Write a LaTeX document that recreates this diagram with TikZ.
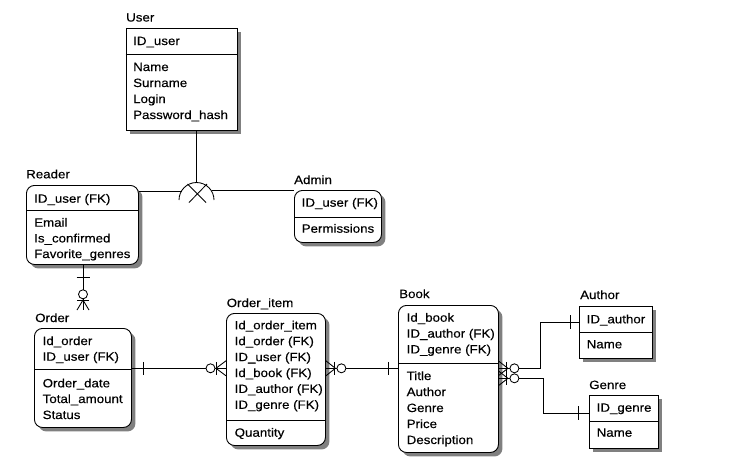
\documentclass[tikz,border=0pt]{standalone}
\usepackage{fontspec}
\setmainfont{Liberation Sans}[FakeStretch=1.11, FakeBold=0.3]
\usetikzlibrary{shadows}
\begin{document}
\begin{tikzpicture}[x=1pt,y=-1pt,
  every node/.style={font=\fontsize{12}{14}\selectfont},
  ent/.style={draw, fill=white, line width=0.9pt, inner sep=0pt, anchor=north west,
    drop shadow={shadow xshift=4pt, shadow yshift=-4pt, fill=black!50, opacity=1}},
  dep/.style={ent, rounded corners=8pt},
  txt/.style={anchor=base west, inner sep=0pt, text=black},
  sepline/.style={line width=0.9pt},
  rel/.style={line width=0.85pt},
]
\useasboundingbox (0,0) rectangle (743,467);

% ---------- entities ----------
\node[ent, minimum width=111pt, minimum height=102pt] (user)   at (125.5,28) {};
\node[dep, minimum width=112pt, minimum height=79pt]  (reader) at (26,185)   {};
\node[dep, minimum width=87pt,  minimum height=52pt]  (admin)  at (294,190)  {};
\node[dep, minimum width=97pt,  minimum height=99pt]  (order)  at (34,328)   {};
\node[dep, minimum width=99pt,  minimum height=132pt] (oitem)  at (226,313)  {};
\node[dep, minimum width=100pt, minimum height=147pt] (book)   at (398,305)  {};
\node[ent, minimum width=73pt,  minimum height=52pt]  (author) at (579,306)  {};
\node[ent, minimum width=69pt,  minimum height=53pt]  (genre)  at (589,395)  {};

% key / non-key separators
\draw[sepline] (user.west   |- 0,54)  -- (user.east   |- 0,54);
\draw[sepline] (reader.west |- 0,210) -- (reader.east |- 0,210);
\draw[sepline] (admin.west  |- 0,217) -- (admin.east  |- 0,217);
\draw[sepline] (order.west  |- 0,369) -- (order.east  |- 0,369);
\draw[sepline] (oitem.west  |- 0,420) -- (oitem.east  |- 0,420);
\draw[sepline] (book.west   |- 0,363) -- (book.east   |- 0,363);
\draw[sepline] (author.west |- 0,332) -- (author.east |- 0,332);
\draw[sepline] (genre.west  |- 0,421) -- (genre.east  |- 0,421);

% ---------- titles ----------
\node[txt] (user-t)   at (126,21.5) {User};
\node[txt] (reader-t) at (26,178.3) {Reader};
\node[txt] (admin-t)  at (294,184)  {Admin};
\node[txt] (order-t)  at (35,322)   {Order};
\node[txt] (oitem-t)  at (226.5,307) {Order\_item};
\node[txt] (book-t)   at (399,298)  {Book};
\node[txt] (author-t) at (580,299)  {Author};
\node[txt] (genre-t)  at (589,389)  {Genre};

% ---------- attributes ----------
\node[txt] (user-a1) at (133,45)  {ID\_user};
\node[txt] (user-a2) at (133,71)  {Name};
\node[txt] (user-a3) at (133,87)  {Surname};
\node[txt] (user-a4) at (133,103) {Login};
\node[txt] (user-a5) at (133,119) {Password\_hash};

\node[txt] (reader-a1) at (34,202.7) {ID\_user (FK)};
\node[txt] (reader-a2) at (34,226.7) {Email};
\node[txt] (reader-a3) at (34,242.4) {Is\_confirmed};
\node[txt] (reader-a4) at (34,258)   {Favorite\_genres};

\node[txt] (admin-a1) at (301.5,206.7) {ID\_user (FK)};
\node[txt] (admin-a2) at (301.5,232.7) {Permissions};

\node[txt] (order-a1) at (42.5,345)   {Id\_order};
\node[txt] (order-a2) at (42.5,360.7) {ID\_user (FK)};
\node[txt] (order-a3) at (42.5,387.3) {Order\_date};
\node[txt] (order-a4) at (42.5,403)   {Total\_amount};
\node[txt] (order-a5) at (42.5,419)   {Status};

\node[txt] (oitem-a1) at (234.5,329.3) {Id\_order\_item};
\node[txt] (oitem-a2) at (234.5,345.2) {Id\_order (FK)};
\node[txt] (oitem-a3) at (234.5,361.1) {ID\_user (FK)};
\node[txt] (oitem-a4) at (234.5,377)   {Id\_book (FK)};
\node[txt] (oitem-a5) at (234.5,392.9) {ID\_author (FK)};
\node[txt] (oitem-a6) at (234.5,408.8) {ID\_genre (FK)};
\node[txt] (oitem-a7) at (234.5,436.7) {Quantity};

\node[txt] (book-a1) at (406.5,321.7) {Id\_book};
\node[txt] (book-a2) at (406.5,337.6) {ID\_author (FK)};
\node[txt] (book-a3) at (406.5,353.4) {ID\_genre (FK)};
\node[txt] (book-a4) at (406.5,380)   {Title};
\node[txt] (book-a5) at (406.5,396)   {Author};
\node[txt] (book-a6) at (406.5,412)   {Genre};
\node[txt] (book-a7) at (406.5,428)   {Price};
\node[txt] (book-a8) at (406.5,444)   {Description};

\node[txt] (author-a1) at (586.5,323.3) {ID\_author};
\node[txt] (author-a2) at (586.5,348.3) {Name};

\node[txt] (genre-a1) at (596.5,411.7) {ID\_genre};
\node[txt] (genre-a2) at (596.5,436.7) {Name};

% ---------- User subtypes: Reader, Admin ----------
\coordinate (cat)   at (196.5,200);
\coordinate (cat-n) at (196.5,182.5);
\coordinate (cat-w) at (181.5,191);
\coordinate (cat-e) at (211.5,190);
\draw[rel] (user.south -| cat-n) -- (cat-n);
\draw[rel] (reader.east |- cat-w) -- (cat-w);
\draw[rel] (cat-e) -- (admin.west |- cat-e);
\draw[rel] (cat) ++(-17.5,0) arc[start angle=180, end angle=360, radius=17.5];
\draw[rel] (cat) ++(-9,-16) -- ++(18.5,18.5);
\draw[rel] (cat) ++(-7.5,2.5) -- ++(18,-18.5);

% ---------- Reader 1 : N Order ----------
\coordinate (ro-end) at (83,310);
\draw[rel] (reader.south -| ro-end) -- (ro-end);
\draw[rel] (ro-end) ++(-6.5,-32.3) -- ++(13,0);
\draw[rel] (ro-end) ++(-6,-10) -- ++(12,0);
\draw[rel] (ro-end) ++(-6,0) -- ++(6,-10) -- ++(6,10);
\draw[rel, fill=white] (ro-end) ++(0,-15.7) circle[radius=4.5];

% ---------- Order 1 : N Order_item ----------
\coordinate (oo-l) at (order.east |- 0,368.3);
\coordinate (oo-r) at (oitem.west |- 0,368.3);
\draw[rel] (oo-l) -- (oo-r);
\draw[rel] (oo-l) ++(12,-6.5) -- ++(0,13);
\draw[rel] (oo-r) ++(-10,-6.5) -- ++(0,13);
\draw[rel] (oo-r) ++(0,-7.5) -- ++(-10,7.5) -- ++(10,7.5);
\draw[rel, fill=white] (oo-r) ++(-15.5,0) circle[radius=4.5];

% ---------- Book 1 : N Order_item ----------
\coordinate (ob-l) at (oitem.east |- 0,368.3);
\coordinate (ob-r) at (book.west |- 0,368.3);
\draw[rel] (ob-l) -- (ob-r);
\draw[rel] (ob-l) ++(0,-7.5) -- ++(9.5,7.5) -- ++(-9.5,7.5);
\draw[rel] (ob-l) ++(8.5,-6.5) -- ++(0,13);
\draw[rel, fill=white] (ob-l) ++(15.5,0) circle[radius=4.5];
\draw[rel] (ob-r) ++(-9.5,-6.5) -- ++(0,13);

% ---------- Author 1 : N Book ----------
\coordinate (ba-l) at (book.east |- 0,368.3);
\coordinate (ba-r) at (author.west |- 0,322);
\draw[rel] (ba-l) -- ++(42,0) |- (ba-r);
\draw[rel] (ba-l) ++(0,-7) -- ++(9,7) -- ++(-9,7);
\draw[rel] (ba-l) ++(8,-6.5) -- ++(0,13);
\draw[rel, fill=white] (ba-l) ++(15.5,0) circle[radius=4.5];
\draw[rel] (ba-r) ++(-9,-7) -- ++(0,14);

% ---------- Genre 1 : N Book ----------
\coordinate (bg-l) at (book.east |- 0,378.3);
\coordinate (bg-r) at (genre.west |- 0,413);
\draw[rel] (bg-l) -- ++(45,0) |- (bg-r);
\draw[rel] (bg-l) ++(0,-7) -- ++(9,7) -- ++(-9,7);
\draw[rel] (bg-l) ++(8,-6.5) -- ++(0,13);
\draw[rel, fill=white] (bg-l) ++(15.5,0) circle[radius=4.5];
\draw[rel] (bg-r) ++(-11,-7) -- ++(0,14);
\end{tikzpicture}
\end{document}
